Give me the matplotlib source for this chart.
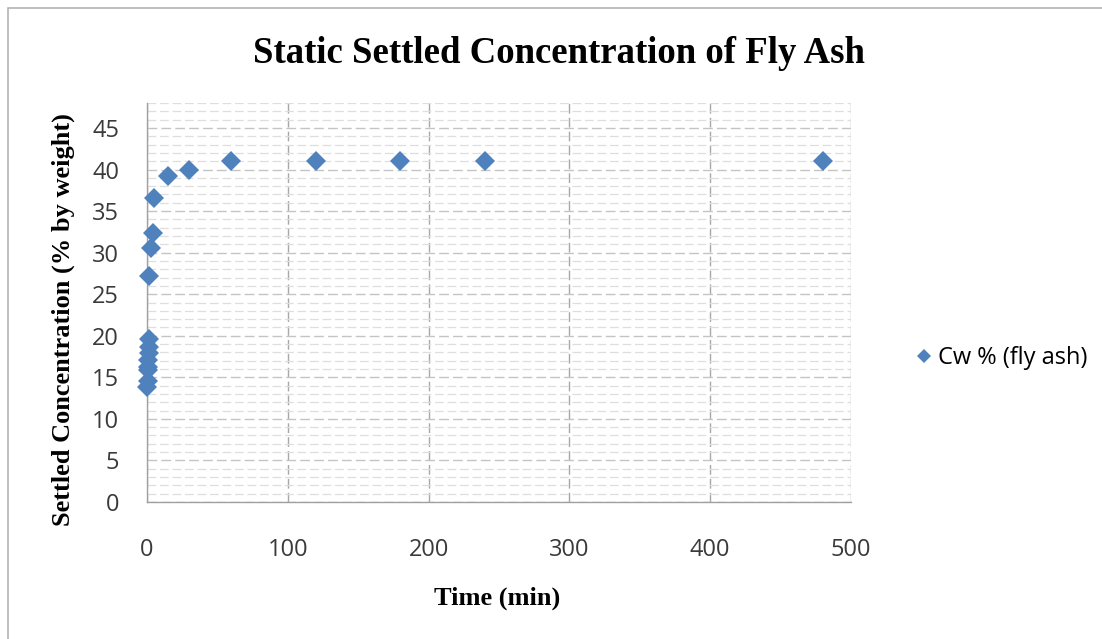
import matplotlib.pyplot as plt
from matplotlib.patches import Rectangle
from matplotlib.ticker import MultipleLocator

# Settling time (min) and settled concentration Cw (% by weight)
time_min = [0.25, 0.5, 0.75, 1.0, 1.0, 1.25, 1.5, 1.5, 1.5, 3, 4, 5, 15, 30, 60, 120, 180, 240, 480]
cw_pct = [13.8, 14.6, 15.9, 16.3, 17.1, 17.9, 18.7, 19.6, 27.2, 30.5, 32.4, 36.6, 39.2, 40.0, 41.0, 41.0, 41.0, 41.0, 41.0]

blue = "#4F81BD"
serif = "Liberation Serif"
sans = "Open Sans"

fig = plt.figure(figsize=(11.02, 6.39), dpi=100)
ax = fig.add_axes([0.1334, 0.2144, 0.6388, 0.6244])

ax.plot(time_min, cw_pct, linestyle="none", marker="D", markersize=10.5,
        markeredgewidth=0, color=blue, label="Cw % (fly ash)", zorder=3, clip_on=False)

ax.set_xlim(0, 500)
ax.set_ylim(0, 48)
ax.xaxis.set_major_locator(MultipleLocator(100))
ax.yaxis.set_major_locator(MultipleLocator(5))
ax.yaxis.set_minor_locator(MultipleLocator(1))

# dashed grid, heavier on the major lines
ax.grid(which="minor", axis="y", color="#dedede", linestyle=(0, (7, 3)), linewidth=0.9)
ax.grid(which="major", axis="y", color="#c4c4c4", linestyle=(0, (7, 3)), linewidth=1.0)
ax.grid(which="major", axis="x", color="#a8a8a8", linestyle=(0, (7, 3)), linewidth=1.0)
ax.set_axisbelow(True)

for s in ["top", "right"]:
    ax.spines[s].set_visible(False)
for s in ["left", "bottom"]:
    ax.spines[s].set_color("#a0a0a0")
    ax.spines[s].set_linewidth(1.0)

ax.tick_params(which="both", length=0)
ax.tick_params(axis="y", pad=20, labelsize=17, labelcolor="#3a3a3a")
ax.tick_params(axis="x", pad=26, labelsize=17, labelcolor="#3a3a3a")
for lab in ax.get_xticklabels() + ax.get_yticklabels():
    lab.set_fontfamily(sans)

fig.text(0.507, 0.916, "Static Settled Concentration of Fly Ash", ha="center", va="center",
         fontsize=26.5, fontweight="bold", family=serif)
fig.text(0.451, 0.064, "Time (min)", ha="center", va="center",
         fontsize=19, fontweight="bold", family=serif)
fig.text(0.057, 0.5, "Settled Concentration (% by weight)", ha="center", va="center",
         rotation=90, fontsize=19, fontweight="bold", family=serif)

fig.legend(loc="center left", bbox_to_anchor=(0.813, 1 - 358 / 639), frameon=False,
           prop={"family": sans, "size": 17}, markerscale=0.7, handlelength=0.6,
           handletextpad=0.3)

# outer chart border
fig.patches.append(Rectangle((8 / 1102, -0.1), 2, 1.1 - 8 / 639, transform=fig.transFigure,
                             fill=False, edgecolor="#b4b4b4", linewidth=1.2))

fig.savefig("out.png", dpi=100, facecolor="white")
